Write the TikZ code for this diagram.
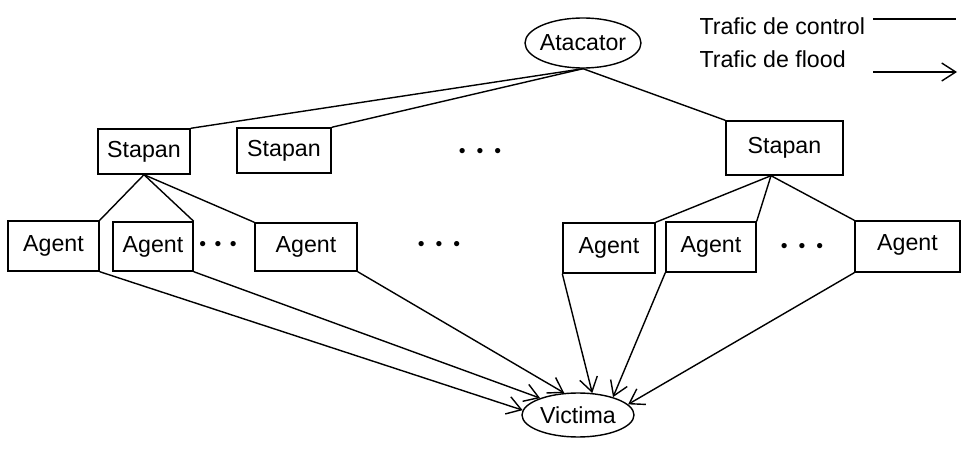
\documentclass[tikz,border=0pt]{standalone}
\usepackage{fontspec}
\setmainfont{Liberation Sans}
\usetikzlibrary{arrows.meta,shapes.geometric}
\begin{document}
\begin{tikzpicture}[>={Straight Barb[length=2.8mm,width=3.6mm]}, line width=.8pt,
    font=\fontsize{13.2}{16}\selectfont,
    box/.style={draw, inner sep=0pt},
    oval/.style={draw, ellipse, inner sep=-1mm},
    dots/.style={font=\fontsize{11}{11}\selectfont}]
\useasboundingbox (0,0) rectangle (19.24,9);
\node[oval, minimum width=2.32cm, minimum height=1cm](atac) at (11.66,8.14){Atacator};
\node[oval, minimum width=2.24cm, minimum height=.88cm](vic) at (11.56,.7){Victima};
% stapani
\node[box, minimum width=1.84cm, minimum height=.9cm](s1) at (2.88,5.97){Stapan};
\node[box, minimum width=1.88cm, minimum height=.9cm](s2) at (5.68,5.99){Stapan};
\node[box, minimum width=2.34cm, minimum height=1.08cm](s3) at (15.69,6.04){Stapan};
\node[dots](d0) at (9.6,5.94){\textbullet\hspace{2.2mm}\textbullet\hspace{2.2mm}\textbullet};
% agenti
\node[box, minimum width=1.82cm, minimum height=1cm](a1) at (1.07,4.08){Agent};
\node[box, minimum width=1.6cm, minimum height=.98cm](a2) at (3.06,4.07){Agent\hspace{1.5mm}};
\node[box, minimum width=2.04cm, minimum height=.96cm](a3) at (6.12,4.06){Agent};
\node[box, minimum width=1.84cm, minimum height=1cm](a4) at (12.18,4.04){Agent};
\node[box, minimum width=1.8cm, minimum height=1cm](a5) at (14.22,4.06){Agent};
\node[box, minimum width=2.1cm, minimum height=1.02cm](a6) at (18.15,4.07){\raisebox{1.7mm}{Agent}};
\node[dots](d1) at (4.36,4.08){\textbullet\hspace{1.7mm}\textbullet\hspace{1.7mm}\textbullet};
\node[dots](d2) at (8.78,4.08){\textbullet\hspace{2.2mm}\textbullet\hspace{2.2mm}\textbullet};
\node[dots](d3) at (16.04,4.04){\textbullet\hspace{2.2mm}\textbullet\hspace{2.2mm}\textbullet};
% trafic de control
\draw (atac.south)--(s1.north east);
\draw (atac.south)--(s2.north east);
\draw (atac.south)--(s3.north west);
\foreach \a in {a1.north east, a2.north east, a3.north west} \draw (s1.south)--(\a);
\foreach \a in {a4.north east, a5.north east, a6.north west} \draw ([xshift=-2.7mm]s3.south)--(\a);
% trafic de flood
\foreach \a/\t in {a1.south east/175, a2.south east/156, a3.south east/122, a4.south west/57, a5.south west/27, a6.south west/12}
    \draw[->] (\a)--(vic.\t);
% legenda
\node[anchor=base west](lc) at (13.86,8.3){Trafic de control};
\node[anchor=base west](lf) at (13.86,7.64){Trafic de flood};
\coordinate (c1) at (17.46,8.62); \coordinate (c2) at (19.12,8.62);
\coordinate (f1) at (17.46,7.56); \coordinate (f2) at (19.14,7.56);
\draw (c1)--(c2);
\draw[->] (f1)--(f2);
\end{tikzpicture}
\end{document}
